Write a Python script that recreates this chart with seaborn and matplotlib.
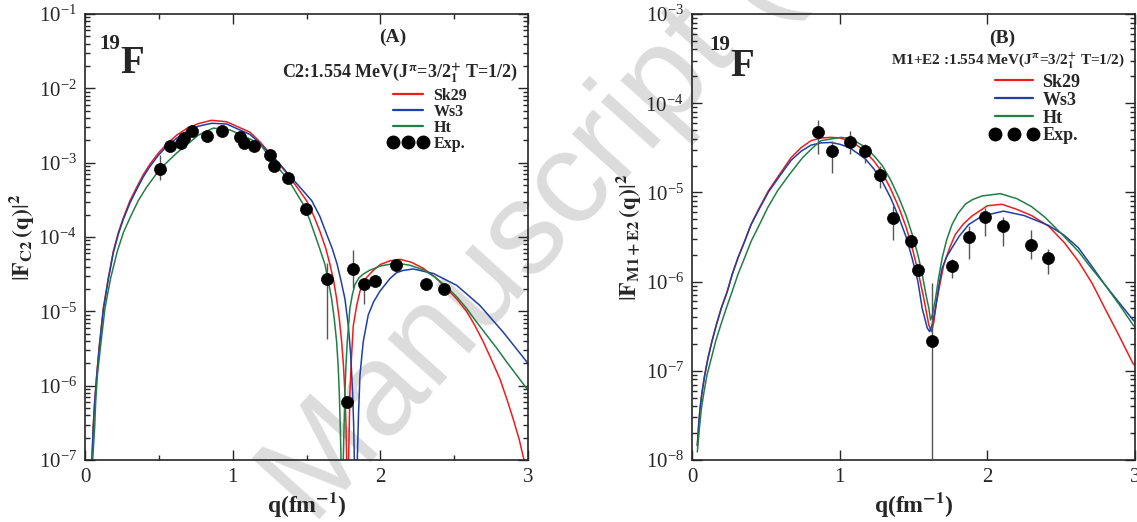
import numpy as np
import pandas as pd
import matplotlib
matplotlib.use("Agg")
import matplotlib.pyplot as plt
import seaborn as sns
from matplotlib.lines import Line2D
from matplotlib.ticker import MultipleLocator, LogLocator, NullFormatter

# curves as log10(|F|^2) against q (fm^-1)

# ---------------- panel (A): C2 form factor ----------------
qA_sk29 = [0.047, 0.056, 0.065, 0.079, 0.097, 0.124, 0.158, 0.192, 0.226, 0.26, 0.305, 0.35,
           0.395, 0.44, 0.497, 0.553, 0.621, 0.689, 0.767, 0.858, 0.959, 1.117, 1.185, 1.253,
           1.32, 1.388, 1.45, 1.50, 1.55, 1.59, 1.63, 1.659, 1.685, 1.704, 1.722, 1.738,
           1.75, 1.76, 1.767, 1.772, 1.778, 1.785, 1.79, 1.794, 1.805, 1.817, 1.84, 1.862,
           1.90, 1.952, 2.0, 2.066, 2.133, 2.21, 2.29, 2.37, 2.449, 2.52, 2.584, 2.64,
           2.697, 2.75, 2.81, 2.86, 2.90, 2.94, 2.967, 3.0]
logA_sk29 = [-7.0, -6.54, -6.23, -5.86, -5.46, -4.96, -4.55, -4.19, -3.94, -3.74, -3.51, -3.33,
             -3.16, -3.02, -2.87, -2.75, -2.63, -2.54, -2.475, -2.43, -2.45, -2.59, -2.72, -2.88,
             -3.03, -3.20, -3.37, -3.51, -3.72, -3.92, -4.15, -4.37, -4.60, -4.83, -5.10, -5.41,
             -5.72, -6.09, -6.5, -7.0, -9.0, -7.0, -6.5, -6.09, -5.6, -5.19, -4.92, -4.73,
             -4.56, -4.45, -4.37, -4.32, -4.30, -4.34, -4.42, -4.54, -4.69, -4.84, -5.0, -5.19,
             -5.41, -5.64, -5.91, -6.2, -6.45, -6.72, -6.95, -7.2]

qA_ws3 = [0.047, 0.056, 0.065, 0.079, 0.097, 0.124, 0.158, 0.192, 0.226, 0.26, 0.305, 0.35,
          0.395, 0.44, 0.497, 0.553, 0.621, 0.689, 0.767, 0.858, 0.959, 1.117, 1.185, 1.253,
          1.32, 1.388, 1.46, 1.535, 1.59, 1.636, 1.675, 1.708, 1.735, 1.76, 1.783, 1.80,
          1.812, 1.819, 1.824, 1.834, 1.844, 1.852, 1.862, 1.884, 1.918, 1.955, 1.997, 2.065,
          2.11, 2.155, 2.223, 2.358, 2.517, 2.674, 2.832, 2.984, 3.0]
logA_ws3 = [-7.0, -6.56, -6.25, -5.88, -5.48, -4.98, -4.57, -4.21, -3.96, -3.76, -3.54, -3.36,
            -3.19, -3.05, -2.90, -2.78, -2.67, -2.58, -2.51, -2.47, -2.48, -2.62, -2.74, -2.88,
            -3.02, -3.18, -3.34, -3.51, -3.72, -3.96, -4.16, -4.37, -4.60, -4.83, -5.19, -5.6,
            -6.09, -6.5, -7.0, -9.0, -7.0, -6.4, -5.86, -5.41, -5.05, -4.87, -4.73, -4.56,
            -4.48, -4.45, -4.43, -4.49, -4.65, -4.92, -5.28, -5.66, -5.70]

qA_ht = [0.052, 0.066, 0.072, 0.084, 0.106, 0.135, 0.174, 0.219, 0.26, 0.305, 0.361, 0.417,
         0.48, 0.542, 0.621, 0.689, 0.767, 0.869, 0.982, 1.095, 1.185, 1.275, 1.377, 1.478,
         1.52, 1.557, 1.59, 1.625, 1.648, 1.670, 1.688, 1.704, 1.714, 1.722, 1.728, 1.734,
         1.741, 1.749, 1.755, 1.76, 1.768, 1.776, 1.794, 1.81, 1.828, 1.855, 1.884, 1.925,
         1.963, 2.0, 2.11, 2.2, 2.29, 2.37, 2.449, 2.52, 2.584, 2.65, 2.72, 2.79,
         2.855, 2.92, 2.984, 3.0]
logA_ht = [-7.0, -6.54, -6.23, -5.86, -5.46, -4.96, -4.55, -4.19, -3.94, -3.74, -3.51, -3.33,
           -3.16, -3.02, -2.87, -2.76, -2.63, -2.535, -2.56, -2.66, -2.75, -2.99, -3.23, -3.56,
           -3.76, -3.97, -4.16, -4.37, -4.60, -4.83, -5.10, -5.41, -5.72, -6.09, -6.5, -7.0,
           -9.0, -7.0, -6.5, -6.09, -5.7, -5.41, -4.96, -4.78, -4.64, -4.55, -4.50, -4.45,
           -4.42, -4.39, -4.35, -4.38, -4.44, -4.54, -4.67, -4.81, -4.96, -5.14, -5.32, -5.50,
           -5.68, -5.85, -6.02, -6.06]

qA_exp = [0.508, 0.575, 0.650, 0.670, 0.724, 0.826, 0.927, 1.050, 1.077, 1.144, 1.253,
          1.280, 1.374, 1.496, 1.638, 1.774, 1.814, 1.889, 1.963, 2.106, 2.309, 2.43]
FA_exp = [8.2e-4, 1.67e-3, 1.83e-3, 2.14e-3, 2.66e-3, 2.28e-3, 2.66e-3, 2.21e-3, 1.84e-3, 1.67e-3, 1.26e-3,
          9.0e-4, 6.2e-4, 2.38e-4, 2.7e-5, 6.0e-7, 3.7e-5, 2.3e-5, 2.55e-5, 4.2e-5, 2.3e-5, 2.0e-5]
FA_lo = [5.8e-4, 1.67e-3, 1.83e-3, 2.14e-3, 2.66e-3, 2.28e-3, 2.66e-3, 2.21e-3, 1.84e-3, 1.67e-3, 1.26e-3,
         9.0e-4, 6.2e-4, 2.0e-4, 4.3e-6, 6.0e-7, 2.04e-5, 1.27e-5, 2.55e-5, 4.2e-5, 2.3e-5, 2.0e-5]
FA_hi = [1.26e-3, 1.67e-3, 1.83e-3, 2.14e-3, 2.66e-3, 2.28e-3, 2.66e-3, 2.21e-3, 1.84e-3, 1.67e-3, 1.26e-3,
         9.0e-4, 6.2e-4, 2.8e-4, 4.45e-5, 6.0e-7, 6.6e-5, 2.6e-5, 2.55e-5, 4.2e-5, 2.3e-5, 2.0e-5]

# ---------------- panel (B): M1+E2 form factor ----------------
qB_sk29 = [0.036, 0.045, 0.054, 0.068, 0.086, 0.108, 0.135, 0.164, 0.198, 0.239, 0.272, 0.311,
           0.356, 0.40, 0.457, 0.518, 0.592, 0.671, 0.738, 0.806, 0.873, 0.94, 1.0, 1.064,
           1.12, 1.177, 1.233, 1.289, 1.345, 1.401, 1.45, 1.491, 1.53, 1.570, 1.604, 1.622,
           1.638, 1.653, 1.68, 1.705, 1.745, 1.784, 1.84, 1.896, 2.0, 2.099, 2.2, 2.3,
           2.414, 2.52, 2.616, 2.71, 2.796, 2.89, 2.987, 3.0]
logB_sk29 = [-7.84, -7.61, -7.43, -7.24, -7.05, -6.86, -6.67, -6.49, -6.30, -6.11, -5.92, -5.735,
             -5.55, -5.36, -5.17, -4.98, -4.80, -4.61, -4.50, -4.42, -4.39, -4.383, -4.39, -4.42,
             -4.475, -4.55, -4.65, -4.78, -4.96, -5.17, -5.39, -5.62, -5.88, -6.19, -6.49, -6.56,
             -6.45, -6.26, -6.02, -5.81, -5.62, -5.47, -5.35, -5.265, -5.15, -5.133, -5.19, -5.26,
             -5.378, -5.56, -5.77, -6.02, -6.30, -6.6, -6.92, -6.94]

qB_ws3 = [0.036, 0.045, 0.054, 0.068, 0.086, 0.108, 0.135, 0.164, 0.198, 0.239, 0.272, 0.311,
          0.356, 0.40, 0.457, 0.518, 0.592, 0.671, 0.738, 0.806, 0.873, 0.94, 1.0, 1.064,
          1.12, 1.177, 1.233, 1.289, 1.345, 1.401, 1.45, 1.491, 1.53, 1.559, 1.593, 1.609,
          1.627, 1.649, 1.67, 1.694, 1.725, 1.761, 1.81, 1.874, 1.964, 2.11, 2.25, 2.414,
          2.52, 2.616, 2.7, 2.796, 2.89, 2.987, 3.0]
logB_ws3 = [-7.84, -7.61, -7.43, -7.24, -7.05, -6.86, -6.67, -6.49, -6.30, -6.11, -5.92, -5.735,
            -5.55, -5.36, -5.18, -4.995, -4.82, -4.64, -4.54, -4.47, -4.445, -4.44, -4.46, -4.496,
            -4.56, -4.63, -4.74, -4.88, -5.06, -5.28, -5.50, -5.74, -6.0, -6.30, -6.52, -6.56,
            -6.48, -6.30, -6.06, -5.85, -5.72, -5.62, -5.49, -5.36, -5.265, -5.21, -5.26, -5.37,
            -5.48, -5.62, -5.81, -6.035, -6.23, -6.43, -6.45]

qB_ht = [0.036, 0.052, 0.063, 0.081, 0.101, 0.131, 0.16, 0.194, 0.232, 0.272, 0.311, 0.356,
         0.40, 0.457, 0.513, 0.580, 0.659, 0.749, 0.817, 0.873, 1.008, 1.064, 1.12, 1.177,
         1.233, 1.289, 1.345, 1.401, 1.45, 1.491, 1.53, 1.559, 1.585, 1.604, 1.615, 1.63,
         1.649, 1.67, 1.694, 1.725, 1.761, 1.80, 1.852, 1.90, 1.964, 2.088, 2.2, 2.3,
         2.391, 2.5, 2.616, 2.7, 2.796, 2.89, 2.987, 3.0]
logB_ht = [-7.91, -7.61, -7.43, -7.24, -7.05, -6.86, -6.67, -6.49, -6.30, -6.11, -5.92, -5.735,
           -5.55, -5.36, -5.17, -4.98, -4.80, -4.61, -4.50, -4.42, -4.383, -4.394, -4.44, -4.496,
           -4.59, -4.70, -4.86, -5.06, -5.26, -5.47, -5.70, -5.92, -6.15, -6.30, -6.43, -6.36,
           -6.19, -5.96, -5.735, -5.53, -5.36, -5.24, -5.13, -5.08, -5.04, -5.014, -5.07, -5.16,
           -5.28, -5.46, -5.66, -5.84, -6.035, -6.25, -6.486, -6.51]

qB_exp = [0.855, 0.949, 1.068, 1.172, 1.271, 1.363, 1.484, 1.532, 1.626, 1.761, 1.879, 1.986, 2.103, 2.294, 2.414]
FB_exp = [4.7e-5, 2.93e-5, 3.7e-5, 2.93e-5, 1.56e-5, 5.1e-6, 2.84e-6, 1.34e-6, 2.16e-7, 1.51e-6,
          3.17e-6, 5.3e-6, 4.2e-6, 2.6e-6, 1.84e-6]
FB_lo = [2.69e-5, 1.67e-5, 2.69e-5, 2.16e-5, 1.13e-5, 2.96e-6, 2.4e-6, 1.2e-6, 1e-9, 1.1e-6,
         1.77e-6, 3.24e-6, 2.49e-6, 1.77e-6, 1.22e-6]
FB_hi = [6.5e-5, 3.8e-5, 4.84e-5, 3.49e-5, 2.0e-5, 7.0e-6, 3.16e-6, 1.5e-6, 9.6e-7, 1.77e-6,
         4.19e-6, 6.7e-6, 5.3e-6, 3.74e-6, 2.32e-6]

models = ["Sk29", "Ws3", "Ht"]
colors = {"Sk29": "#ee1c1c", "Ws3": "#1f3fa6", "Ht": "#217f45"}

sns.set_style("ticks")
plt.rcParams["font.family"] = ["Liberation Serif", "DejaVu Serif"]
plt.rcParams["mathtext.fontset"] = "stix"


def curve_frame(parts):
    frames = [pd.DataFrame({"q": q, "F2": np.power(10.0, lg), "model": name})
              for name, q, lg in parts]
    return pd.concat(frames, ignore_index=True)


dfA = curve_frame([("Sk29", qA_sk29, logA_sk29), ("Ws3", qA_ws3, logA_ws3), ("Ht", qA_ht, logA_ht)])
dfB = curve_frame([("Sk29", qB_sk29, logB_sk29), ("Ws3", qB_ws3, logB_ws3), ("Ht", qB_ht, logB_ht)])

fig = plt.figure(figsize=(11.37, 5.22), dpi=100)
W, H = 1137, 522
ax1 = fig.add_axes([85 / W, 1 - 460 / H, 443 / W, 446 / H])
ax2 = fig.add_axes([692 / W, 1 - 460 / H, 443 / W, 446 / H])

# watermark behind everything
fig.text(0.275, -0.01, "Manuscript (Author", rotation=48, rotation_mode="anchor",
         ha="left", va="baseline", fontsize=94, color="#dcdcdc",
         family="Liberation Sans", zorder=0)

panels = [
    (ax1, dfA, qA_exp, FA_exp, FA_lo, FA_hi, (1e-7, 1e-1)),
    (ax2, dfB, qB_exp, FB_exp, FB_lo, FB_hi, (1e-8, 1e-3)),
]
for ax, df, qe, fe, lo, hi, ylim in panels:
    ax.set_zorder(1)
    ax.set_facecolor("none")
    sns.lineplot(data=df, x="q", y="F2", hue="model", hue_order=models, palette=colors,
                 estimator=None, sort=False, lw=1.1, legend=False, ax=ax)
    ax.vlines(qe, lo, hi, color="#555555", lw=1.0, zorder=3)
    sns.scatterplot(x=qe, y=fe, color="black", s=75, edgecolor="black", linewidth=0.5,
                    zorder=4, ax=ax)
    ax.set_yscale("log")
    ax.set_xlim(0, 3)
    ax.set_ylim(*ylim)
    ax.xaxis.set_major_locator(MultipleLocator(1))
    ax.yaxis.set_major_locator(LogLocator(base=10, numticks=12))
    ax.yaxis.set_minor_locator(LogLocator(base=10, subs=np.arange(2, 10), numticks=12))
    ax.yaxis.set_minor_formatter(NullFormatter())
    ax.tick_params(which="both", direction="in", top=True, right=True, labelsize=15,
                   width=1.0, pad=6)
    ax.tick_params(which="major", length=7)
    ax.tick_params(which="minor", length=3.5)
    for s in ax.spines.values():
        s.set_linewidth(1.2)
    ax.set_xlabel(r"q(fm$^{\mathbf{-1}}$)", fontsize=17, fontweight="bold", labelpad=2)

ax1.xaxis.set_minor_locator(MultipleLocator(0.5))

ax1.set_ylabel(r"$|\mathbf{F}_{\mathbf{C2}}\,\mathbf{(q)}|^{\mathbf{2}}$", fontsize=17, labelpad=2)
ax2.set_ylabel(r"$|\mathbf{F}_{\mathbf{M1+E2}}\,\mathbf{(q)}|^{\mathbf{2}}$", fontsize=17, labelpad=2)

handles = [Line2D([], [], color=colors[m], lw=1.6) for m in models]
handles.append(Line2D([], [], ls="none", marker="o", color="black", markersize=9))
labels = ["Sk29", "Ws3", "Ht", "Exp."]

ax1.legend(handles, labels, loc="upper left",
           bbox_to_anchor=(0.684, 0.835), frameon=False, numpoints=3,
           handlelength=2.5, handletextpad=0.35, labelspacing=0.0,
           borderaxespad=0, borderpad=0,
           prop={"family": "Liberation Serif", "weight": "bold", "size": 11.5})
ax2.legend(handles, labels, loc="upper left",
           bbox_to_anchor=(0.671, 0.866), frameon=False, numpoints=3,
           handlelength=2.7, handletextpad=0.25, labelspacing=0.05,
           borderaxespad=0, borderpad=0,
           prop={"family": "Liberation Serif", "weight": "bold", "size": 13})

# panel annotations
ax1.text(0.695, 0.948, "(A)", transform=ax1.transAxes, ha="center", va="center",
         fontsize=14, fontweight="bold")
ax1.text(0.978, 0.856, r"C2:1.554 MeV(J$^{\mathbf{\pi}}$=3/2$_{\mathbf{1}}^{\mathbf{+}}$ T=1/2)",
         transform=ax1.transAxes, ha="right", va="baseline", fontsize=13, fontweight="bold")
ax1.text(0.079, 0.868, "F", transform=ax1.transAxes, ha="left", va="baseline",
         fontsize=28, fontweight="bold")
ax1.text(0.079, 0.922, "19", transform=ax1.transAxes, ha="right", va="baseline",
         fontsize=15, fontweight="bold")

ax2.text(0.700, 0.946, "(B)", transform=ax2.transAxes, ha="center", va="center",
         fontsize=14, fontweight="bold")
ax2.text(0.977, 0.886, r"M1+E2 :1.554 MeV(J$^{\mathbf{\pi}}$=3/2$_{\mathbf{1}}^{\mathbf{+}}$ T=1/2)",
         transform=ax2.transAxes, ha="right", va="baseline", fontsize=11, fontweight="bold")
ax2.text(0.086, 0.861, "F", transform=ax2.transAxes, ha="left", va="baseline",
         fontsize=28, fontweight="bold")
ax2.text(0.086, 0.919, "19", transform=ax2.transAxes, ha="right", va="baseline",
         fontsize=15, fontweight="bold")

fig.savefig("out.png", dpi=100)
